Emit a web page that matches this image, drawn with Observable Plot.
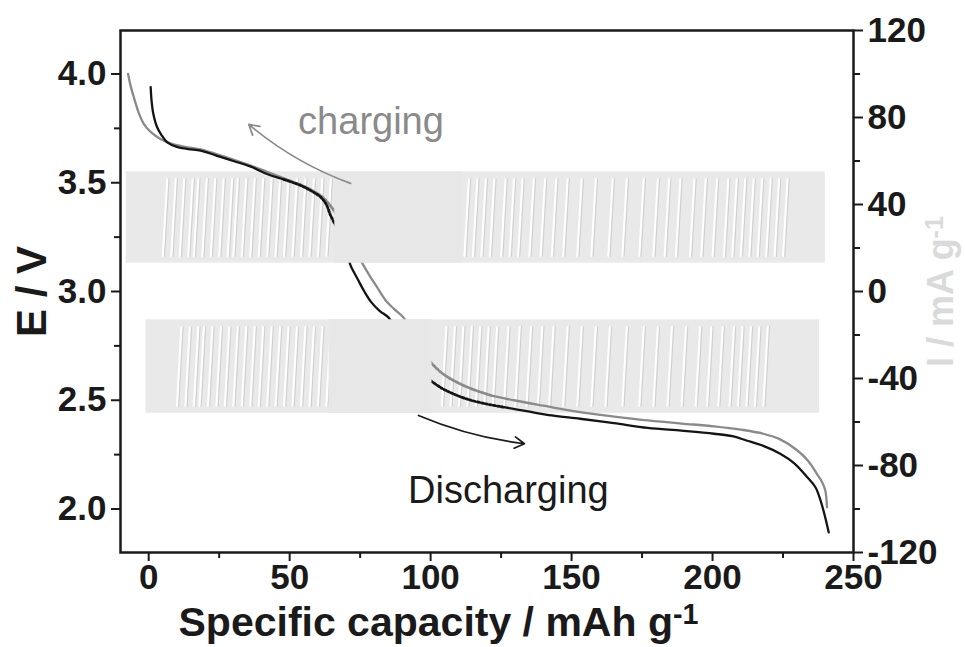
<!DOCTYPE html>
<html>
<head>
<meta charset="utf-8">
<script src="https://cdn.jsdelivr.net/npm/d3@7"></script>
<script src="https://cdn.jsdelivr.net/npm/@observablehq/plot@0.6"></script>
<style>
  html, body { margin: 0; padding: 0; background: #fff; }
</style>
</head>
<body>
<div id="chart"></div>
<script>
// ---------- data ----------
const xTicks = [0, 50, 100, 150, 200, 250];
const xMinor = [25, 75, 125, 175, 225];
const eTicks = [2.0, 2.5, 3.0, 3.5, 4.0];
const eMinor = [2.25, 2.75, 3.25, 3.75];
const iTicks = [-120, -80, -40, 0, 40, 80, 120];
const iMinor = [-100, -60, -20, 20, 60, 100];

// black curve: specific capacity (mAh/g) and potential (V)
const blackX = [0.7, 1.0, 1.6, 3.0, 4.5, 6.6, 10, 14, 18.4, 24, 30, 36, 42, 48, 54, 58, 61, 63, 64.5, 66.5, 68.5, 70.5, 71.6, 74, 76.5, 79, 82, 85.1, 88, 91, 94, 97, 100, 104, 108, 113, 119, 126, 134, 143, 153, 165, 177, 189, 200.5, 207, 212, 218, 224, 229, 233.6, 236.5, 238.3, 240, 241.2];
const blackE = [3.94, 3.88, 3.82, 3.755, 3.72, 3.686, 3.665, 3.655, 3.648, 3.625, 3.60, 3.575, 3.54, 3.515, 3.487, 3.46, 3.434, 3.40, 3.35, 3.30, 3.24, 3.17, 3.12, 3.06, 3.00, 2.95, 2.91, 2.88, 2.82, 2.76, 2.70, 2.64, 2.59, 2.555, 2.53, 2.505, 2.485, 2.468, 2.45, 2.43, 2.415, 2.395, 2.373, 2.36, 2.346, 2.335, 2.315, 2.29, 2.254, 2.21, 2.146, 2.10, 2.04, 1.96, 1.893];

// grey curve
const greyX = [-7.3, -6.5, -5.2, -3.5, -1.7, 1, 4.3, 8, 13, 18, 24, 30, 36, 42, 48, 54, 58, 62, 65, 68, 70, 72.5, 74.5, 76.2, 78.5, 81, 84, 87, 90.4, 93, 96, 98, 100, 104, 109, 115, 122, 129.5, 140, 153, 165, 177, 189, 200.5, 210, 218, 224, 230, 234, 237, 239, 240, 240.6];
const greyE = [4.0, 3.95, 3.89, 3.82, 3.77, 3.73, 3.70, 3.68, 3.665, 3.655, 3.632, 3.607, 3.58, 3.55, 3.52, 3.49, 3.465, 3.43, 3.385, 3.33, 3.28, 3.21, 3.16, 3.12, 3.07, 3.02, 2.96, 2.92, 2.88, 2.82, 2.75, 2.71, 2.675, 2.625, 2.585, 2.55, 2.52, 2.50, 2.475, 2.445, 2.425, 2.407, 2.393, 2.38, 2.365, 2.346, 2.32, 2.27, 2.22, 2.162, 2.12, 2.085, 2.008];

// current bands (I in mA/g) — charge pulses (top) and discharge pulses (bottom)
const bandX1 = [-8, -1];
const bandX2 = [240, 238];
const bandILow = [13, -56];
const bandIHigh = [55, -13];
// smooth (pulse-free) patches inside the bands
const patchX1 = [66, 64];
const patchX2 = [111, 100.5];

const topPulseX = [5, 8, 11, 14, 16, 19, 22, 25, 28, 30, 33, 36, 39, 42, 45, 48, 51, 54, 57, 60, 63,
  112, 115, 118, 121, 125, 128, 131, 135, 139, 143, 147, 152, 157, 163, 168, 174, 179, 183, 187, 192, 196, 200, 204, 207, 210, 213, 216, 219, 222, 225];
const bottomPulseX = [10, 13, 16, 18, 21, 24, 27, 30, 33, 36, 39, 42, 45, 48, 51, 54, 57, 60, 63,
  104, 107, 110, 113, 116, 119, 122, 126, 130, 134, 138, 142, 147, 152, 157, 162, 168, 174, 179, 184, 189, 194, 198, 202, 206, 209, 212, 215, 218];
const topPulseI = [16, 52];
const bottomPulseI = [-53, -16];

// ---------- derived tables ----------
const toE = i => 3 + i / 100;   // right axis (mA/g) -> left axis (V)
const black = blackX.map((x, k) => ({x, E: blackE[k]}));
const grey = greyX.map((x, k) => ({x, E: greyE[k]}));
const bands = bandX1.map((x1, k) => ({x1, x2: bandX2[k], y1: toE(bandILow[k]), y2: toE(bandIHigh[k])}));
const patches = patchX1.map((x1, k) => ({x1, x2: patchX2[k], y1: toE(bandILow[k]), y2: toE(bandIHigh[k])}));
const pulses = [
  ...topPulseX.map(x => ({x1: x, x2: x + 1.6, y1: toE(topPulseI[0]), y2: toE(topPulseI[1])})),
  ...bottomPulseX.map(x => ({x1: x, x2: x + 1.6, y1: toE(bottomPulseI[0]), y2: toE(bottomPulseI[1])}))
];

// relaxation (GITT) portions drawn dashed; solid elsewhere (small overlaps keep continuity)
const inDashed = (x, a1, b1, a2, b2) => (x >= a1 && x <= b1) || (x >= a2 && x <= b2);
const solidY = (a1, b1, a2, b2) => d => (d.x <= a1 + 3 || (d.x >= b1 - 1 && d.x <= a2 + 1) || d.x >= b2 - 3) ? d.E : NaN;
const dashY = (a1, b1, a2, b2) => d => inDashed(d.x, a1 - 3, b1 + 1, a2 - 1, b2 + 3) ? d.E : NaN;

const font = "'Liberation Sans', Arial, Helvetica, sans-serif";
const tickFont = {fontSize: 35, fontWeight: "bold", fontFamily: font};

const chart = Plot.plot({
  width: 965,
  height: 647,
  marginLeft: 120,
  marginRight: 112,
  marginTop: 30,
  marginBottom: 95,
  x: {domain: [-10, 250]},
  y: {domain: [1.8, 4.2]},
  style: {fontFamily: font, fontSize: "34px", fontWeight: "bold", color: "#1a1a1a", background: "#ffffff"},
  marks: [
    // current bands
    Plot.rect(bands, {x1: "x1", x2: "x2", y1: "y1", y2: "y2", fill: "#e9e9e9"}),
    Plot.link(pulses, {x1: "x1", x2: "x2", y1: "y1", y2: "y2", stroke: "#ffffff", strokeWidth: 2}),
    Plot.link(pulses, {x1: "x1", x2: "x2", y1: "y1", y2: "y2", stroke: "#cbcbcb", strokeWidth: 0.9, dx: 1.8}),
    // potential curves
    Plot.line(grey, {x: "x", y: solidY(52, 68, 100, 122), stroke: "#8a8a8a", strokeWidth: 2.3, curve: "catmull-rom"}),
    Plot.line(grey, {x: "x", y: dashY(52, 68, 100, 122), stroke: "#8a8a8a", strokeWidth: 2.8, strokeDasharray: "2,2", curve: "catmull-rom"}),
    Plot.line(black, {x: "x", y: solidY(50, 66, 100, 126), stroke: "#141414", strokeWidth: 2.3, curve: "catmull-rom"}),
    Plot.line(black, {x: "x", y: dashY(50, 66, 100, 126), stroke: "#141414", strokeWidth: 2.8, strokeDasharray: "2,2", curve: "catmull-rom"}),
    // smooth patches hiding parts of the curves
    Plot.rect(patches, {x1: "x1", x2: "x2", y1: "y1", y2: "y2", fill: "#e7e7e7"}),
    // annotations
    Plot.arrow([0], {x1: 71.6, y1: 3.497, x2: 35.5, y2: 3.768, bend: 10, stroke: "#8a8a8a", strokeWidth: 1.7, headLength: 10}),
    Plot.arrow([0], {x1: 95.7, y1: 2.43, x2: 133.3, y2: 2.30, bend: -8, stroke: "#1a1a1a", strokeWidth: 1.7, headLength: 10}),
    Plot.text(["charging"], {x: 53, y: 3.78, text: d => d, textAnchor: "start", fill: "#8a8a8a", fontSize: 38, fontWeight: "normal", fontFamily: font}),
    Plot.text(["Discharging"], {x: 92, y: 2.085, text: d => d, textAnchor: "start", fill: "#1a1a1a", fontSize: 38, fontWeight: "normal", fontFamily: font}),
    // axes
    Plot.axisX({ticks: xTicks, tickSize: 9, tickPadding: 3, strokeWidth: 2, tickFormat: d => String(d), label: null, ...tickFont}),
    Plot.axisX({ticks: xMinor, tickSize: 6, strokeWidth: 2, tickFormat: () => "", label: null}),
    Plot.axisY({ticks: eTicks, tickSize: 9, tickPadding: 5, strokeWidth: 2, tickFormat: d3.format(".1f"), label: null, ...tickFont}),
    Plot.axisY({ticks: eMinor, tickSize: 6, strokeWidth: 2, tickFormat: () => "", label: null}),
    Plot.axisY({anchor: "right", ticks: iTicks.map(toE), tickSize: 9, tickPadding: 5, strokeWidth: 2,
      tickFormat: e => String(Math.round((e - 3) * 100)), label: null, ...tickFont}),
    Plot.axisY({anchor: "right", ticks: iMinor.map(toE), tickSize: 6, strokeWidth: 2, tickFormat: () => "", label: null}),
    Plot.frame({stroke: "#1a1a1a", strokeWidth: 2.5}),
    // axis titles
    Plot.text(["Specific capacity / mAh g"], {frameAnchor: "bottom-left", dx: 58, dy: 83, text: d => d, textAnchor: "start", fontSize: 41, fontWeight: "bold", fill: "#1a1a1a", fontFamily: font}),
    Plot.text(["E / V"], {frameAnchor: "left", dx: -88, text: d => d, textAnchor: "middle", rotate: -90, fontSize: 42, fontWeight: "bold", fill: "#1a1a1a", fontFamily: font}),
    Plot.text(["I / mA g"], {frameAnchor: "right", dx: 88, text: d => d, textAnchor: "middle", rotate: -90, fontSize: 36, fontWeight: "bold", fill: "#dadada", fontFamily: font})
  ]
});

document.getElementById("chart").appendChild(chart);

// superscripts on unit labels
d3.select(chart).selectAll("text").each(function() {
  const t = this.textContent;
  if (t === "Specific capacity / mAh g" || t === "I / mA g") {
    d3.select(this).append("tspan").attr("dy", "-0.4em").attr("font-size", "0.7em").text("-1");
  }
});
</script>
</body>
</html>
